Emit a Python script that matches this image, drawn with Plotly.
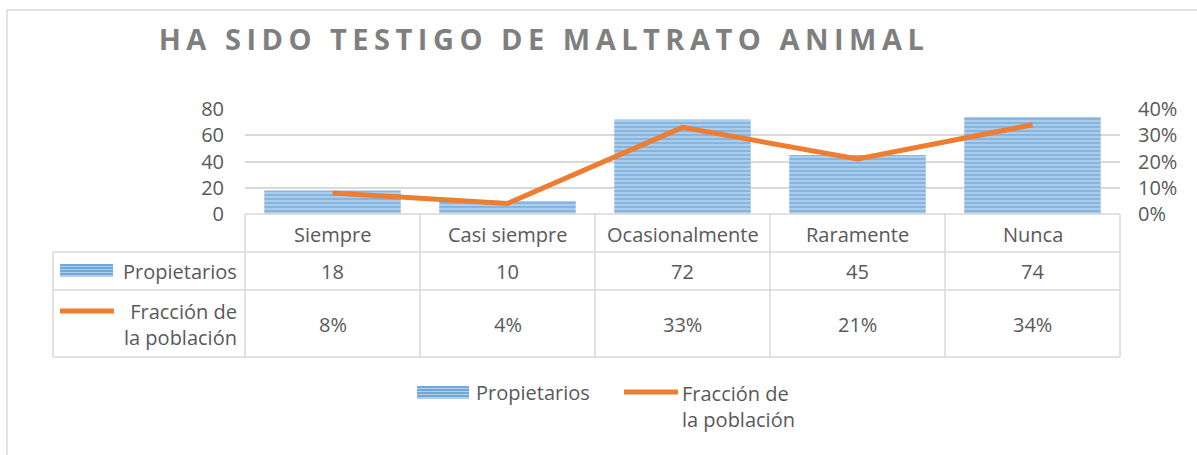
import plotly.graph_objects as go

# ---------------- data ----------------
categories = ["Siempre", "Casi siempre", "Ocasionalmente", "Raramente", "Nunca"]
propietarios = [18, 10, 72, 45, 74]
fraccion = [0.08, 0.04, 0.33, 0.21, 0.34]
left_ticks = [0, 20, 40, 60, 80]
right_ticks = [0, 0.1, 0.2, 0.3, 0.4]
series_bar = "Propietarios"
series_line = "Fracción de<br>la población"
title_text = "HA SIDO TESTIGO DE MALTRATO ANIMAL"

# ---------------- geometry helpers ----------------
W, H = 1197, 455
L, R, T, B = 245, 77, 109, 241
pw, ph = W - L - R, H - T - B


def X(px):
    return (px - L) / pw


def Y(py):
    return (H - B - py) / ph


FONT = "Open Sans"
FS = 20
TXT = "#595959"
GRID = "#D9D9D9"
BLUE = "#5B9BD5"
BLUE_L = "#AFCFEC"
ORANGE = "#ED7D31"

fig = go.Figure()
fig.add_trace(go.Bar(
    x=categories, y=propietarios, name="Propietarios", width=0.78,
    marker=dict(color=BLUE_L, line=dict(width=0),
                pattern=dict(shape="-", fgcolor=BLUE, bgcolor=BLUE_L, size=4, solidity=0.55)),
    showlegend=False,
))
fig.add_trace(go.Scatter(
    x=categories, y=fraccion, name="Fracción de la población", yaxis="y2",
    mode="lines", line=dict(color=ORANGE, width=5), showlegend=False,
))

shapes = []
ann = []


def hline(x0, x1, y):
    shapes.append(dict(type="line", xref="paper", yref="paper", x0=X(x0), x1=X(x1), y0=Y(y), y1=Y(y),
                       line=dict(color=GRID, width=1.5)))


def vline(x, y0, y1):
    shapes.append(dict(type="line", xref="paper", yref="paper", x0=X(x), x1=X(x), y0=Y(y0), y1=Y(y1),
                       line=dict(color=GRID, width=1.5)))


# outer chart border (left + top)
vline(7, 10, 460)
hline(7, 1200, 10)

# data table grid
col_edges = [245 + i * 175 for i in range(len(categories) + 1)]
tbl_left = 53
row_y = [214, 252, 290, 357]
hline(245, 1120, 214)
for yy in row_y[1:]:
    hline(tbl_left, 1120, yy)
for xx in col_edges:
    vline(xx, 214, 357)
vline(tbl_left, 252, 357)


def bar_swatch(x0, x1, y0, y1):
    shapes.append(dict(type="rect", xref="paper", yref="paper", x0=X(x0), x1=X(x1), y0=Y(y0), y1=Y(y1),
                       fillcolor=BLUE_L, line=dict(width=0)))
    yy = y0 + 1
    while yy < y1:
        shapes.append(dict(type="line", xref="paper", yref="paper", x0=X(x0), x1=X(x1), y0=Y(yy), y1=Y(yy),
                           line=dict(color=BLUE, width=1.6)))
        yy += 3


def line_swatch(x0, x1, yc):
    shapes.append(dict(type="line", xref="paper", yref="paper", x0=X(x0), x1=X(x1), y0=Y(yc), y1=Y(yc),
                       line=dict(color=ORANGE, width=5)))


def text(x, y, s, xref="paper", xanchor="center", align="center"):
    ann.append(dict(x=x, xref=xref, y=Y(y), yref="paper", text=s, showarrow=False,
                    xanchor=xanchor, yanchor="middle", align=align,
                    font=dict(family=FONT, size=FS, color=TXT)))


# table contents
for c, v, f in zip(categories, propietarios, fraccion):
    text(c, 234, c, xref="x")
    text(c, 271, str(v), xref="x")
    text(c, 324, f"{round(f * 100)}%", xref="x")

# row headers
bar_swatch(60, 113, 264, 277)
text(X(239), 271, series_bar, xanchor="right")
line_swatch(60, 114, 311)
text(X(239), 324, series_line, xanchor="right", align="right")

# bottom legend
bar_swatch(417, 469, 386, 399)
text(X(474), 392, series_bar, xanchor="left")
line_swatch(624, 678, 392)
text(X(680), 407, series_line, xanchor="left", align="left")

fig.update_layout(
    width=W, height=H,
    margin=dict(l=L, r=R, t=T, b=B),
    paper_bgcolor="white", plot_bgcolor="white",
    title=dict(text=title_text, x=X(544), xref="paper", xanchor="center",
               y=1 - 40 / H, yref="container", yanchor="middle",
               font=dict(family=FONT, size=29, color="#7F7F7F", weight="bold")),
    xaxis=dict(type="category", showticklabels=False, showgrid=False, showline=False, zeroline=False,
               range=[-0.5, 4.5]),
    yaxis=dict(range=[0, 80], tickvals=left_ticks, showgrid=True, gridcolor=GRID, gridwidth=1.5,
               zeroline=False, showline=False, ticklabelstandoff=20,
               tickfont=dict(family=FONT, size=FS, color=TXT)),
    yaxis2=dict(range=[0, 0.4], tickvals=right_ticks, tickformat=".0%", overlaying="y", side="right",
                showgrid=False, zeroline=False, showline=False, ticklabelstandoff=17,
                tickfont=dict(family=FONT, size=FS, color=TXT)),
    shapes=shapes,
    annotations=ann,
)

post = ("document.body.style.margin='0';"
        "var t=document.querySelector('.gtitle'); if(t){t.style.letterSpacing='5.5px';}")
fig.write_html("out.html", post_script=post, config={"displayModeBar": False})
